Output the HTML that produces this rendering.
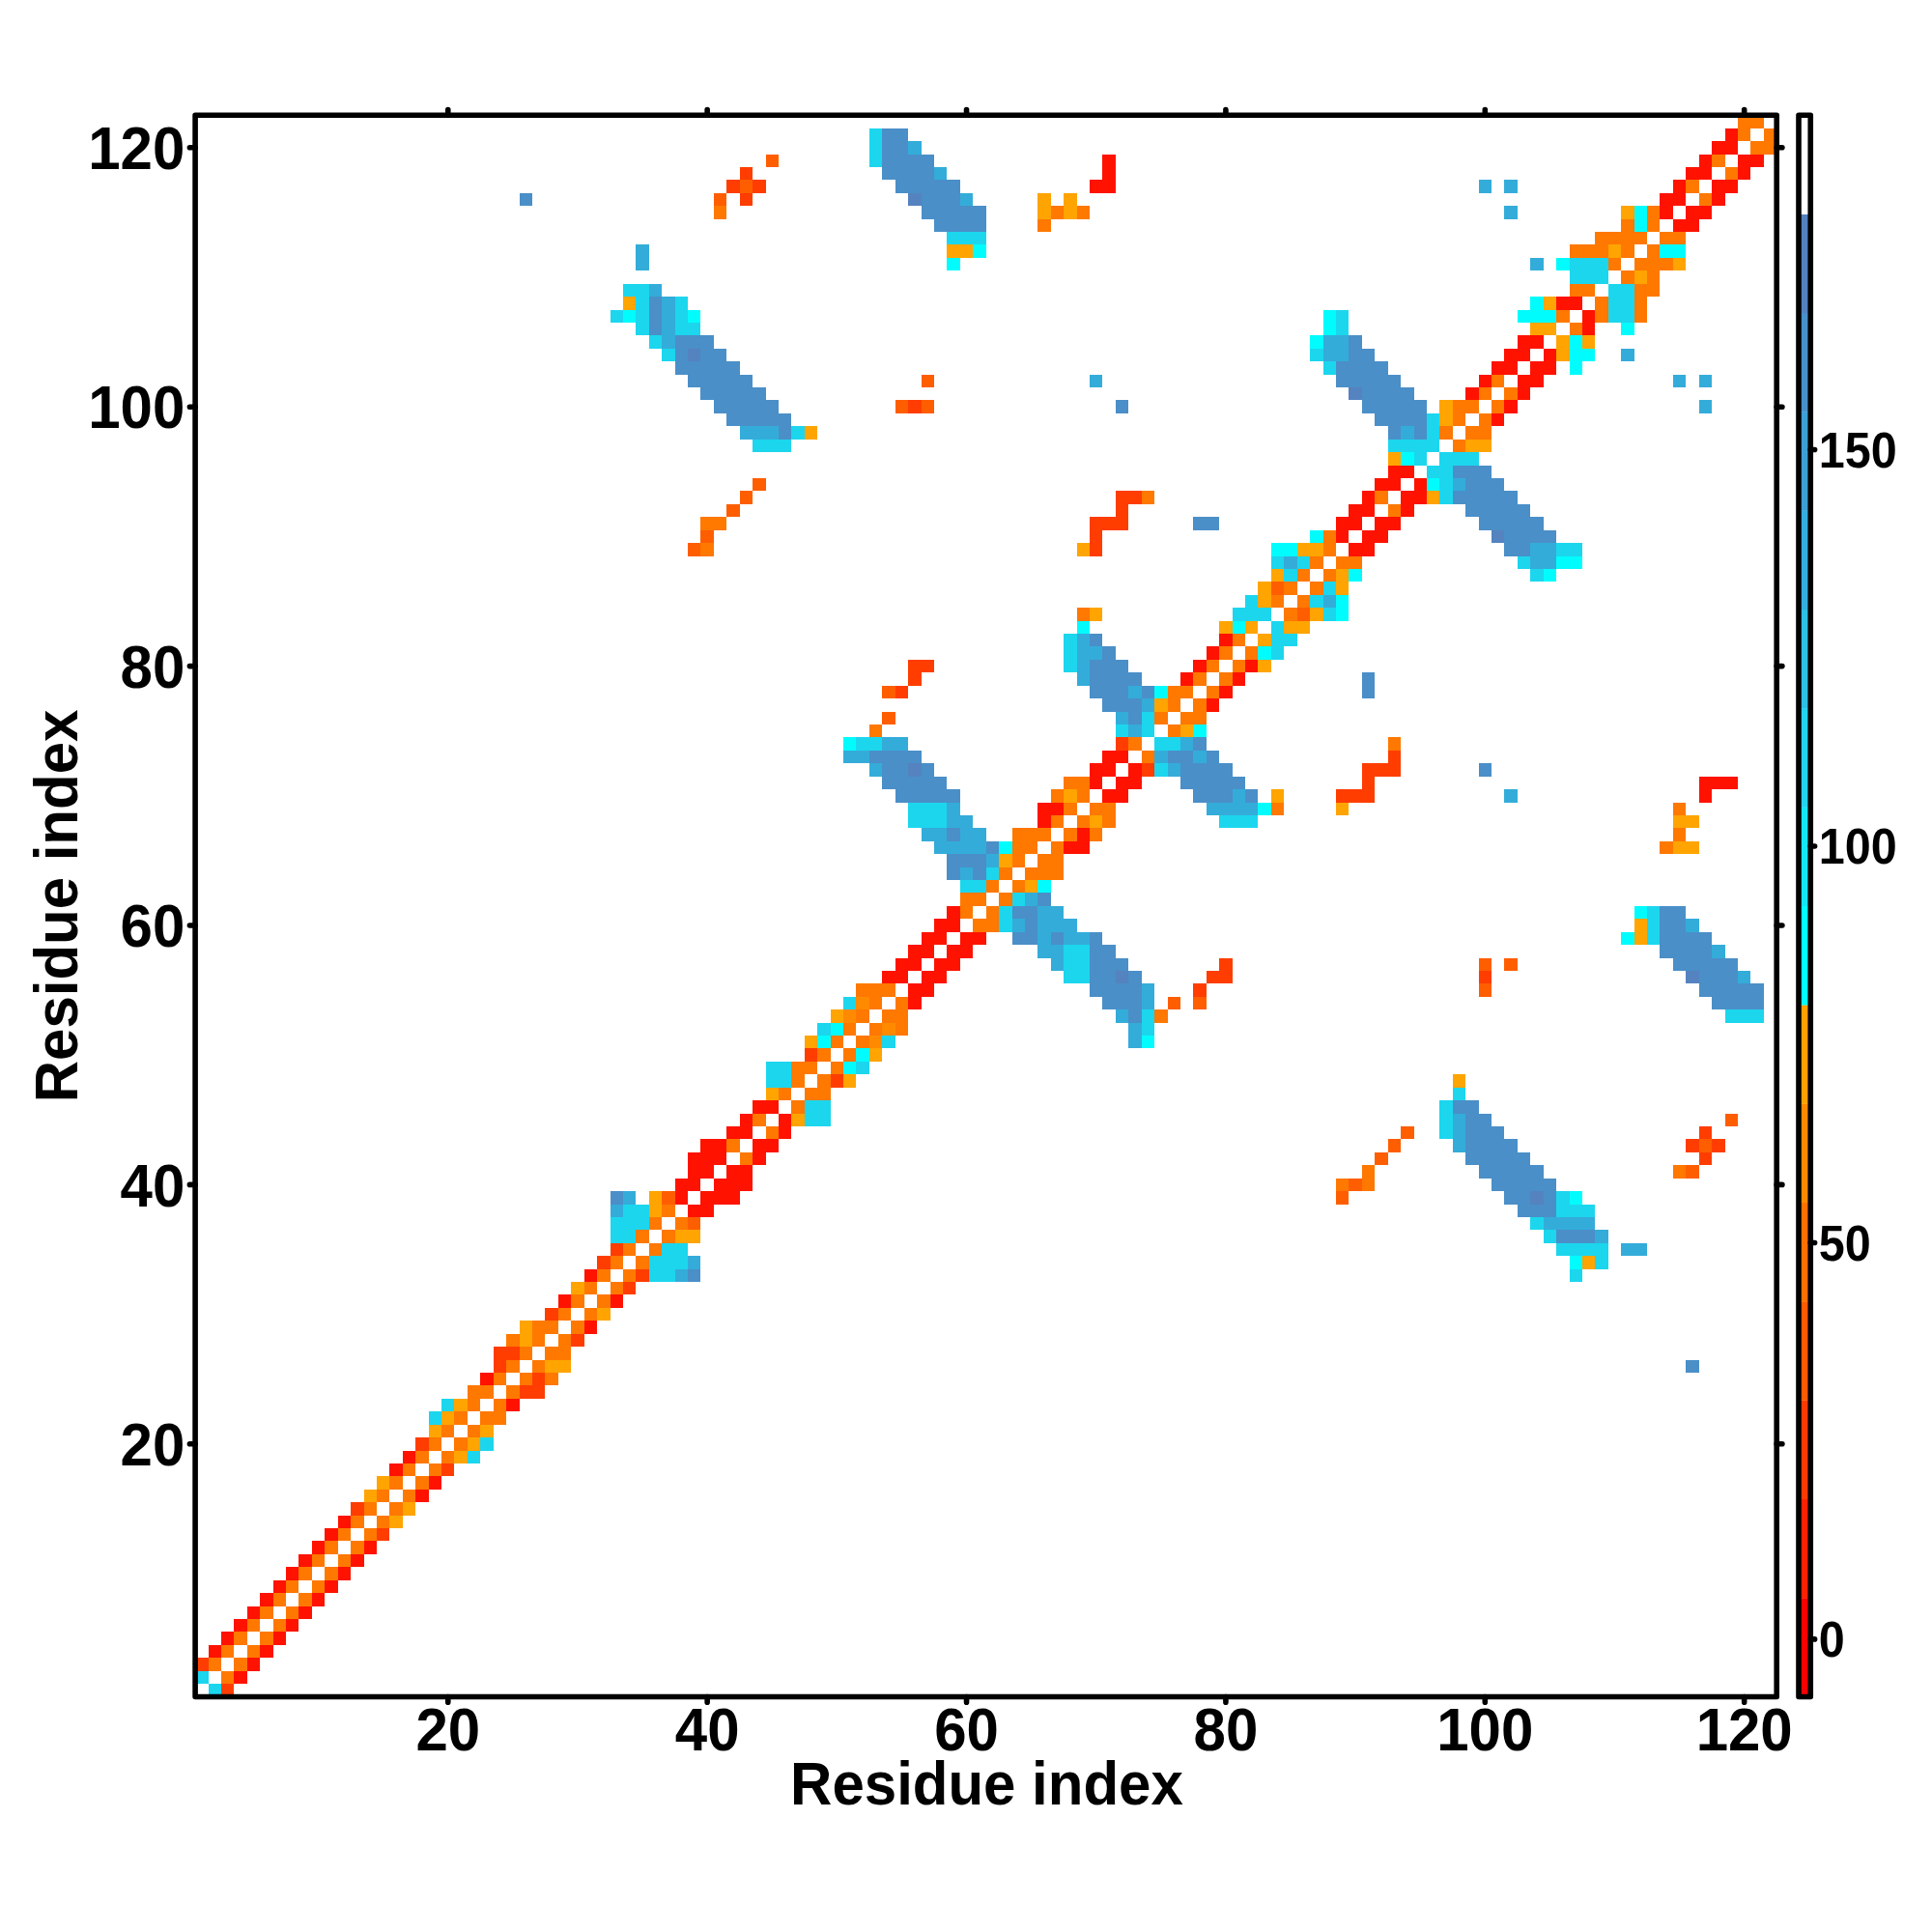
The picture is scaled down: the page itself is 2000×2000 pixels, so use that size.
<!DOCTYPE html>
<html><head><meta charset="utf-8"><title>Contact map</title>
<style>html,body{margin:0;padding:0;background:#fff;width:2000px;height:2000px;overflow:hidden}
svg{display:block}
text{font-family:"Liberation Sans",sans-serif;font-weight:bold;fill:#000}</style></head>
<body><svg width="2000" height="2000" viewBox="0 0 2000 2000">
<rect width="2000" height="2000" fill="#fff"/>
<g shape-rendering="crispEdges"><path fill="#1cd6ee" d="M202.11 1729.65h13.42v13.42h-13.42zM215.53 1743.07h13.42v13.42h-13.42zM443.65 1461.25h13.42v13.42h-13.42zM457.07 1447.83h13.42v13.42h-13.42zM483.91 1501.51h13.42v13.42h-13.42zM497.33 1488.09h13.42v13.42h-13.42zM631.52 1273.37h13.42v13.42h-13.42zM631.52 1259.95h13.42v13.42h-13.42zM631.52 320.55h13.42v13.42h-13.42zM644.94 1273.37h13.42v13.42h-13.42zM644.94 1259.95h13.42v13.42h-13.42zM644.94 1246.53h13.42v13.42h-13.42zM644.94 293.71h13.42v13.42h-13.42zM658.36 1259.95h13.42v13.42h-13.42zM658.36 1246.53h13.42v13.42h-13.42zM658.36 333.97h13.42v13.42h-13.42zM658.36 320.55h13.42v13.42h-13.42zM658.36 307.13h13.42v13.42h-13.42zM658.36 293.71h13.42v13.42h-13.42zM671.77 1313.63h13.42v13.42h-13.42zM671.77 1300.21h13.42v13.42h-13.42zM671.77 347.39h13.42v13.42h-13.42zM685.19 1313.63h13.42v13.42h-13.42zM685.19 1300.21h13.42v13.42h-13.42zM685.19 1286.79h13.42v13.42h-13.42zM685.19 360.81h13.42v13.42h-13.42zM698.61 1300.21h13.42v13.42h-13.42zM698.61 1286.79h13.42v13.42h-13.42zM698.61 333.97h13.42v13.42h-13.42zM698.61 320.55h13.42v13.42h-13.42zM698.61 307.13h13.42v13.42h-13.42zM712.03 333.97h13.42v13.42h-13.42zM779.13 454.75h13.42v13.42h-13.42zM792.55 1112.33h13.42v13.42h-13.42zM792.55 1098.91h13.42v13.42h-13.42zM792.55 454.75h13.42v13.42h-13.42zM805.96 1112.33h13.42v13.42h-13.42zM805.96 1098.91h13.42v13.42h-13.42zM805.96 454.75h13.42v13.42h-13.42zM819.38 441.33h13.42v13.42h-13.42zM832.80 1152.59h13.42v13.42h-13.42zM832.80 1139.17h13.42v13.42h-13.42zM846.22 1152.59h13.42v13.42h-13.42zM846.22 1139.17h13.42v13.42h-13.42zM846.22 1058.65h13.42v13.42h-13.42zM873.06 1031.81h13.42v13.42h-13.42zM886.48 1098.91h13.42v13.42h-13.42zM886.48 763.41h13.42v13.42h-13.42zM899.90 763.41h13.42v13.42h-13.42zM899.90 159.51h13.42v13.42h-13.42zM899.90 146.09h13.42v13.42h-13.42zM899.90 132.67h13.42v13.42h-13.42zM913.32 1072.07h13.42v13.42h-13.42zM940.15 843.93h13.42v13.42h-13.42zM940.15 830.51h13.42v13.42h-13.42zM953.57 843.93h13.42v13.42h-13.42zM953.57 830.51h13.42v13.42h-13.42zM966.99 843.93h13.42v13.42h-13.42zM966.99 830.51h13.42v13.42h-13.42zM980.41 240.03h13.42v13.42h-13.42zM993.83 911.03h13.42v13.42h-13.42zM993.83 240.03h13.42v13.42h-13.42zM1007.25 911.03h13.42v13.42h-13.42zM1007.25 240.03h13.42v13.42h-13.42zM1020.67 897.61h13.42v13.42h-13.42zM1034.09 951.29h13.42v13.42h-13.42zM1034.09 937.87h13.42v13.42h-13.42zM1047.51 924.45h13.42v13.42h-13.42zM1101.18 1004.97h13.42v13.42h-13.42zM1101.18 991.55h13.42v13.42h-13.42zM1101.18 978.13h13.42v13.42h-13.42zM1101.18 682.89h13.42v13.42h-13.42zM1101.18 669.47h13.42v13.42h-13.42zM1101.18 656.05h13.42v13.42h-13.42zM1114.60 1004.97h13.42v13.42h-13.42zM1114.60 991.55h13.42v13.42h-13.42zM1114.60 978.13h13.42v13.42h-13.42zM1154.86 749.99h13.42v13.42h-13.42zM1181.70 1058.65h13.42v13.42h-13.42zM1181.70 1045.23h13.42v13.42h-13.42zM1181.70 749.99h13.42v13.42h-13.42zM1181.70 736.57h13.42v13.42h-13.42zM1195.12 790.25h13.42v13.42h-13.42zM1195.12 763.41h13.42v13.42h-13.42zM1208.53 763.41h13.42v13.42h-13.42zM1262.21 843.93h13.42v13.42h-13.42zM1275.63 843.93h13.42v13.42h-13.42zM1275.63 629.21h13.42v13.42h-13.42zM1289.05 843.93h13.42v13.42h-13.42zM1289.05 629.21h13.42v13.42h-13.42zM1289.05 615.79h13.42v13.42h-13.42zM1302.47 629.21h13.42v13.42h-13.42zM1315.89 669.47h13.42v13.42h-13.42zM1315.89 656.05h13.42v13.42h-13.42zM1315.89 642.63h13.42v13.42h-13.42zM1315.89 575.53h13.42v13.42h-13.42zM1329.31 656.05h13.42v13.42h-13.42zM1329.31 588.95h13.42v13.42h-13.42zM1342.72 575.53h13.42v13.42h-13.42zM1356.14 615.79h13.42v13.42h-13.42zM1356.14 360.81h13.42v13.42h-13.42zM1369.56 629.21h13.42v13.42h-13.42zM1369.56 602.37h13.42v13.42h-13.42zM1369.56 374.23h13.42v13.42h-13.42zM1382.98 333.97h13.42v13.42h-13.42zM1382.98 320.55h13.42v13.42h-13.42zM1436.66 454.75h13.42v13.42h-13.42zM1450.08 454.75h13.42v13.42h-13.42zM1463.50 468.17h13.42v13.42h-13.42zM1463.50 454.75h13.42v13.42h-13.42zM1476.91 481.59h13.42v13.42h-13.42zM1476.91 454.75h13.42v13.42h-13.42zM1476.91 441.33h13.42v13.42h-13.42zM1476.91 427.91h13.42v13.42h-13.42zM1490.33 1166.01h13.42v13.42h-13.42zM1490.33 1152.59h13.42v13.42h-13.42zM1490.33 1139.17h13.42v13.42h-13.42zM1490.33 508.43h13.42v13.42h-13.42zM1490.33 495.01h13.42v13.42h-13.42zM1490.33 481.59h13.42v13.42h-13.42zM1490.33 468.17h13.42v13.42h-13.42zM1503.75 1125.75h13.42v13.42h-13.42zM1503.75 468.17h13.42v13.42h-13.42zM1517.17 468.17h13.42v13.42h-13.42zM1570.85 575.53h13.42v13.42h-13.42zM1584.27 1259.95h13.42v13.42h-13.42zM1584.27 588.95h13.42v13.42h-13.42zM1597.69 1273.37h13.42v13.42h-13.42zM1611.10 1286.79h13.42v13.42h-13.42zM1611.10 1246.53h13.42v13.42h-13.42zM1611.10 1233.11h13.42v13.42h-13.42zM1611.10 562.11h13.42v13.42h-13.42zM1624.52 1313.63h13.42v13.42h-13.42zM1624.52 1286.79h13.42v13.42h-13.42zM1624.52 1246.53h13.42v13.42h-13.42zM1624.52 562.11h13.42v13.42h-13.42zM1624.52 280.29h13.42v13.42h-13.42zM1624.52 266.87h13.42v13.42h-13.42zM1637.94 1286.79h13.42v13.42h-13.42zM1637.94 1246.53h13.42v13.42h-13.42zM1637.94 280.29h13.42v13.42h-13.42zM1637.94 266.87h13.42v13.42h-13.42zM1651.36 1300.21h13.42v13.42h-13.42zM1651.36 1286.79h13.42v13.42h-13.42zM1651.36 280.29h13.42v13.42h-13.42zM1651.36 266.87h13.42v13.42h-13.42zM1664.78 320.55h13.42v13.42h-13.42zM1664.78 307.13h13.42v13.42h-13.42zM1664.78 293.71h13.42v13.42h-13.42zM1678.20 320.55h13.42v13.42h-13.42zM1678.20 307.13h13.42v13.42h-13.42zM1678.20 293.71h13.42v13.42h-13.42zM1705.04 964.71h13.42v13.42h-13.42zM1705.04 951.29h13.42v13.42h-13.42zM1705.04 937.87h13.42v13.42h-13.42zM1785.55 1045.23h13.42v13.42h-13.42zM1798.97 1045.23h13.42v13.42h-13.42zM1812.39 1045.23h13.42v13.42h-13.42z"/><path fill="#ff3d00" d="M202.11 1716.23h13.42v13.42h-13.42zM228.95 1743.07h13.42v13.42h-13.42zM363.14 1555.19h13.42v13.42h-13.42zM389.98 1582.03h13.42v13.42h-13.42zM430.23 1488.09h13.42v13.42h-13.42zM457.07 1514.93h13.42v13.42h-13.42zM510.75 1407.57h13.42v13.42h-13.42zM510.75 1394.15h13.42v13.42h-13.42zM524.17 1394.15h13.42v13.42h-13.42zM537.58 1434.41h13.42v13.42h-13.42zM551.00 1434.41h13.42v13.42h-13.42zM551.00 1420.99h13.42v13.42h-13.42zM564.42 1353.89h13.42v13.42h-13.42zM591.26 1380.73h13.42v13.42h-13.42zM618.10 1300.21h13.42v13.42h-13.42zM631.52 1286.79h13.42v13.42h-13.42zM644.94 1327.05h13.42v13.42h-13.42zM658.36 1313.63h13.42v13.42h-13.42zM752.29 186.35h13.42v13.42h-13.42zM765.71 199.77h13.42v13.42h-13.42zM765.71 172.93h13.42v13.42h-13.42zM779.13 186.35h13.42v13.42h-13.42zM832.80 1085.49h13.42v13.42h-13.42zM859.64 1112.33h13.42v13.42h-13.42zM926.74 709.73h13.42v13.42h-13.42zM940.15 696.31h13.42v13.42h-13.42zM940.15 682.89h13.42v13.42h-13.42zM940.15 414.49h13.42v13.42h-13.42zM953.57 682.89h13.42v13.42h-13.42zM1128.02 562.11h13.42v13.42h-13.42zM1128.02 548.69h13.42v13.42h-13.42zM1128.02 535.27h13.42v13.42h-13.42zM1141.44 535.27h13.42v13.42h-13.42zM1154.86 763.41h13.42v13.42h-13.42zM1154.86 535.27h13.42v13.42h-13.42zM1154.86 521.85h13.42v13.42h-13.42zM1154.86 508.43h13.42v13.42h-13.42zM1168.28 508.43h13.42v13.42h-13.42zM1181.70 790.25h13.42v13.42h-13.42zM1235.37 1018.39h13.42v13.42h-13.42zM1248.79 1004.97h13.42v13.42h-13.42zM1262.21 1004.97h13.42v13.42h-13.42zM1262.21 991.55h13.42v13.42h-13.42zM1382.98 817.09h13.42v13.42h-13.42zM1396.40 817.09h13.42v13.42h-13.42zM1409.82 817.09h13.42v13.42h-13.42zM1409.82 803.67h13.42v13.42h-13.42zM1409.82 790.25h13.42v13.42h-13.42zM1423.24 790.25h13.42v13.42h-13.42zM1436.66 790.25h13.42v13.42h-13.42zM1436.66 776.83h13.42v13.42h-13.42zM1530.59 1004.97h13.42v13.42h-13.42zM1745.29 1179.43h13.42v13.42h-13.42zM1758.71 1192.85h13.42v13.42h-13.42zM1758.71 1166.01h13.42v13.42h-13.42zM1772.13 1179.43h13.42v13.42h-13.42z"/><path fill="#ff7800" d="M215.53 1716.23h13.42v13.42h-13.42zM228.95 1729.65h13.42v13.42h-13.42zM228.95 1702.81h13.42v13.42h-13.42zM242.37 1716.23h13.42v13.42h-13.42zM242.37 1689.39h13.42v13.42h-13.42zM255.79 1702.81h13.42v13.42h-13.42zM255.79 1675.97h13.42v13.42h-13.42zM269.20 1689.39h13.42v13.42h-13.42zM269.20 1662.55h13.42v13.42h-13.42zM282.62 1675.97h13.42v13.42h-13.42zM282.62 1649.13h13.42v13.42h-13.42zM296.04 1662.55h13.42v13.42h-13.42zM296.04 1635.71h13.42v13.42h-13.42zM309.46 1649.13h13.42v13.42h-13.42zM309.46 1622.29h13.42v13.42h-13.42zM322.88 1635.71h13.42v13.42h-13.42zM322.88 1608.87h13.42v13.42h-13.42zM336.30 1622.29h13.42v13.42h-13.42zM336.30 1595.45h13.42v13.42h-13.42zM349.72 1608.87h13.42v13.42h-13.42zM349.72 1582.03h13.42v13.42h-13.42zM363.14 1595.45h13.42v13.42h-13.42zM363.14 1568.61h13.42v13.42h-13.42zM376.56 1582.03h13.42v13.42h-13.42zM376.56 1555.19h13.42v13.42h-13.42zM389.98 1568.61h13.42v13.42h-13.42zM389.98 1541.77h13.42v13.42h-13.42zM403.39 1555.19h13.42v13.42h-13.42zM403.39 1528.35h13.42v13.42h-13.42zM416.81 1541.77h13.42v13.42h-13.42zM416.81 1514.93h13.42v13.42h-13.42zM430.23 1528.35h13.42v13.42h-13.42zM430.23 1501.51h13.42v13.42h-13.42zM443.65 1514.93h13.42v13.42h-13.42zM443.65 1488.09h13.42v13.42h-13.42zM457.07 1501.51h13.42v13.42h-13.42zM457.07 1474.67h13.42v13.42h-13.42zM470.49 1488.09h13.42v13.42h-13.42zM470.49 1461.25h13.42v13.42h-13.42zM483.91 1474.67h13.42v13.42h-13.42zM483.91 1447.83h13.42v13.42h-13.42zM483.91 1434.41h13.42v13.42h-13.42zM497.33 1461.25h13.42v13.42h-13.42zM497.33 1434.41h13.42v13.42h-13.42zM510.75 1461.25h13.42v13.42h-13.42zM510.75 1447.83h13.42v13.42h-13.42zM510.75 1420.99h13.42v13.42h-13.42zM524.17 1434.41h13.42v13.42h-13.42zM524.17 1407.57h13.42v13.42h-13.42zM524.17 1380.73h13.42v13.42h-13.42zM537.58 1420.99h13.42v13.42h-13.42zM537.58 1394.15h13.42v13.42h-13.42zM551.00 1407.57h13.42v13.42h-13.42zM551.00 1380.73h13.42v13.42h-13.42zM551.00 1367.31h13.42v13.42h-13.42zM564.42 1420.99h13.42v13.42h-13.42zM564.42 1394.15h13.42v13.42h-13.42zM564.42 1367.31h13.42v13.42h-13.42zM577.84 1394.15h13.42v13.42h-13.42zM577.84 1380.73h13.42v13.42h-13.42zM577.84 1353.89h13.42v13.42h-13.42zM591.26 1367.31h13.42v13.42h-13.42zM591.26 1340.47h13.42v13.42h-13.42zM604.68 1353.89h13.42v13.42h-13.42zM604.68 1327.05h13.42v13.42h-13.42zM618.10 1340.47h13.42v13.42h-13.42zM618.10 1313.63h13.42v13.42h-13.42zM631.52 1327.05h13.42v13.42h-13.42zM631.52 1300.21h13.42v13.42h-13.42zM644.94 1313.63h13.42v13.42h-13.42zM644.94 1286.79h13.42v13.42h-13.42zM658.36 1300.21h13.42v13.42h-13.42zM658.36 1273.37h13.42v13.42h-13.42zM671.77 1286.79h13.42v13.42h-13.42zM671.77 1259.95h13.42v13.42h-13.42zM685.19 1273.37h13.42v13.42h-13.42zM685.19 1246.53h13.42v13.42h-13.42zM698.61 1259.95h13.42v13.42h-13.42zM725.45 562.11h13.42v13.42h-13.42zM725.45 535.27h13.42v13.42h-13.42zM738.87 535.27h13.42v13.42h-13.42zM738.87 213.19h13.42v13.42h-13.42zM752.29 1179.43h13.42v13.42h-13.42zM765.71 1192.85h13.42v13.42h-13.42zM779.13 1152.59h13.42v13.42h-13.42zM792.55 1166.01h13.42v13.42h-13.42zM805.96 1125.75h13.42v13.42h-13.42zM819.38 1139.17h13.42v13.42h-13.42zM819.38 1112.33h13.42v13.42h-13.42zM819.38 1098.91h13.42v13.42h-13.42zM832.80 1125.75h13.42v13.42h-13.42zM832.80 1098.91h13.42v13.42h-13.42zM846.22 1125.75h13.42v13.42h-13.42zM846.22 1112.33h13.42v13.42h-13.42zM846.22 1085.49h13.42v13.42h-13.42zM859.64 1098.91h13.42v13.42h-13.42zM859.64 1072.07h13.42v13.42h-13.42zM873.06 1085.49h13.42v13.42h-13.42zM873.06 1058.65h13.42v13.42h-13.42zM886.48 1072.07h13.42v13.42h-13.42zM886.48 1045.23h13.42v13.42h-13.42zM886.48 1018.39h13.42v13.42h-13.42zM899.90 1058.65h13.42v13.42h-13.42zM899.90 1031.81h13.42v13.42h-13.42zM899.90 1018.39h13.42v13.42h-13.42zM899.90 749.99h13.42v13.42h-13.42zM913.32 1045.23h13.42v13.42h-13.42zM913.32 1018.39h13.42v13.42h-13.42zM926.74 1058.65h13.42v13.42h-13.42zM926.74 1045.23h13.42v13.42h-13.42zM926.74 1031.81h13.42v13.42h-13.42zM993.83 937.87h13.42v13.42h-13.42zM993.83 924.45h13.42v13.42h-13.42zM1007.25 951.29h13.42v13.42h-13.42zM1007.25 924.45h13.42v13.42h-13.42zM1020.67 951.29h13.42v13.42h-13.42zM1020.67 937.87h13.42v13.42h-13.42zM1020.67 911.03h13.42v13.42h-13.42zM1034.09 924.45h13.42v13.42h-13.42zM1034.09 897.61h13.42v13.42h-13.42zM1047.51 911.03h13.42v13.42h-13.42zM1047.51 884.19h13.42v13.42h-13.42zM1047.51 870.77h13.42v13.42h-13.42zM1047.51 857.35h13.42v13.42h-13.42zM1060.93 897.61h13.42v13.42h-13.42zM1060.93 870.77h13.42v13.42h-13.42zM1060.93 857.35h13.42v13.42h-13.42zM1074.34 897.61h13.42v13.42h-13.42zM1074.34 884.19h13.42v13.42h-13.42zM1074.34 857.35h13.42v13.42h-13.42zM1074.34 226.61h13.42v13.42h-13.42zM1087.76 897.61h13.42v13.42h-13.42zM1087.76 884.19h13.42v13.42h-13.42zM1087.76 870.77h13.42v13.42h-13.42zM1087.76 843.93h13.42v13.42h-13.42zM1087.76 817.09h13.42v13.42h-13.42zM1087.76 213.19h13.42v13.42h-13.42zM1101.18 857.35h13.42v13.42h-13.42zM1101.18 830.51h13.42v13.42h-13.42zM1101.18 803.67h13.42v13.42h-13.42zM1114.60 843.93h13.42v13.42h-13.42zM1114.60 817.09h13.42v13.42h-13.42zM1114.60 803.67h13.42v13.42h-13.42zM1114.60 629.21h13.42v13.42h-13.42zM1114.60 213.19h13.42v13.42h-13.42zM1128.02 857.35h13.42v13.42h-13.42zM1128.02 830.51h13.42v13.42h-13.42zM1141.44 843.93h13.42v13.42h-13.42zM1141.44 830.51h13.42v13.42h-13.42zM1168.28 763.41h13.42v13.42h-13.42zM1181.70 776.83h13.42v13.42h-13.42zM1181.70 508.43h13.42v13.42h-13.42zM1195.12 1045.23h13.42v13.42h-13.42zM1195.12 736.57h13.42v13.42h-13.42zM1208.53 749.99h13.42v13.42h-13.42zM1208.53 723.15h13.42v13.42h-13.42zM1208.53 709.73h13.42v13.42h-13.42zM1221.95 736.57h13.42v13.42h-13.42zM1221.95 709.73h13.42v13.42h-13.42zM1235.37 736.57h13.42v13.42h-13.42zM1235.37 723.15h13.42v13.42h-13.42zM1235.37 696.31h13.42v13.42h-13.42zM1248.79 709.73h13.42v13.42h-13.42zM1248.79 682.89h13.42v13.42h-13.42zM1262.21 696.31h13.42v13.42h-13.42zM1262.21 669.47h13.42v13.42h-13.42zM1275.63 682.89h13.42v13.42h-13.42zM1275.63 656.05h13.42v13.42h-13.42zM1289.05 669.47h13.42v13.42h-13.42zM1315.89 830.51h13.42v13.42h-13.42zM1315.89 615.79h13.42v13.42h-13.42zM1329.31 629.21h13.42v13.42h-13.42zM1329.31 602.37h13.42v13.42h-13.42zM1342.72 615.79h13.42v13.42h-13.42zM1342.72 588.95h13.42v13.42h-13.42zM1356.14 602.37h13.42v13.42h-13.42zM1356.14 575.53h13.42v13.42h-13.42zM1369.56 588.95h13.42v13.42h-13.42zM1369.56 562.11h13.42v13.42h-13.42zM1369.56 548.69h13.42v13.42h-13.42zM1382.98 1219.69h13.42v13.42h-13.42zM1382.98 575.53h13.42v13.42h-13.42zM1396.40 575.53h13.42v13.42h-13.42zM1409.82 1219.69h13.42v13.42h-13.42zM1409.82 1206.27h13.42v13.42h-13.42zM1423.24 508.43h13.42v13.42h-13.42zM1436.66 763.41h13.42v13.42h-13.42zM1436.66 521.85h13.42v13.42h-13.42zM1490.33 441.33h13.42v13.42h-13.42zM1503.75 454.75h13.42v13.42h-13.42zM1503.75 427.91h13.42v13.42h-13.42zM1503.75 414.49h13.42v13.42h-13.42zM1517.17 441.33h13.42v13.42h-13.42zM1517.17 414.49h13.42v13.42h-13.42zM1530.59 441.33h13.42v13.42h-13.42zM1530.59 427.91h13.42v13.42h-13.42zM1530.59 401.07h13.42v13.42h-13.42zM1544.01 414.49h13.42v13.42h-13.42zM1544.01 387.65h13.42v13.42h-13.42zM1557.43 401.07h13.42v13.42h-13.42zM1611.10 320.55h13.42v13.42h-13.42zM1624.52 333.97h13.42v13.42h-13.42zM1624.52 293.71h13.42v13.42h-13.42zM1624.52 253.45h13.42v13.42h-13.42zM1637.94 293.71h13.42v13.42h-13.42zM1637.94 253.45h13.42v13.42h-13.42zM1651.36 320.55h13.42v13.42h-13.42zM1651.36 307.13h13.42v13.42h-13.42zM1651.36 253.45h13.42v13.42h-13.42zM1651.36 240.03h13.42v13.42h-13.42zM1664.78 266.87h13.42v13.42h-13.42zM1664.78 240.03h13.42v13.42h-13.42zM1678.20 280.29h13.42v13.42h-13.42zM1678.20 253.45h13.42v13.42h-13.42zM1678.20 240.03h13.42v13.42h-13.42zM1678.20 226.61h13.42v13.42h-13.42zM1691.62 320.55h13.42v13.42h-13.42zM1691.62 307.13h13.42v13.42h-13.42zM1691.62 293.71h13.42v13.42h-13.42zM1691.62 266.87h13.42v13.42h-13.42zM1691.62 240.03h13.42v13.42h-13.42zM1705.04 293.71h13.42v13.42h-13.42zM1705.04 280.29h13.42v13.42h-13.42zM1705.04 266.87h13.42v13.42h-13.42zM1705.04 253.45h13.42v13.42h-13.42zM1705.04 226.61h13.42v13.42h-13.42zM1705.04 213.19h13.42v13.42h-13.42zM1718.46 870.77h13.42v13.42h-13.42zM1718.46 266.87h13.42v13.42h-13.42zM1718.46 240.03h13.42v13.42h-13.42zM1731.88 1206.27h13.42v13.42h-13.42zM1731.88 857.35h13.42v13.42h-13.42zM1731.88 830.51h13.42v13.42h-13.42zM1731.88 240.03h13.42v13.42h-13.42zM1745.29 186.35h13.42v13.42h-13.42zM1758.71 199.77h13.42v13.42h-13.42zM1772.13 159.51h13.42v13.42h-13.42zM1785.55 172.93h13.42v13.42h-13.42zM1798.97 132.67h13.42v13.42h-13.42zM1798.97 119.25h13.42v13.42h-13.42zM1812.39 146.09h13.42v13.42h-13.42zM1812.39 119.25h13.42v13.42h-13.42zM1825.81 146.09h13.42v13.42h-13.42zM1825.81 132.67h13.42v13.42h-13.42z"/><path fill="#ff1200" d="M215.53 1702.81h13.42v13.42h-13.42zM228.95 1689.39h13.42v13.42h-13.42zM242.37 1729.65h13.42v13.42h-13.42zM242.37 1675.97h13.42v13.42h-13.42zM255.79 1716.23h13.42v13.42h-13.42zM255.79 1662.55h13.42v13.42h-13.42zM269.20 1702.81h13.42v13.42h-13.42zM269.20 1649.13h13.42v13.42h-13.42zM282.62 1689.39h13.42v13.42h-13.42zM282.62 1635.71h13.42v13.42h-13.42zM296.04 1675.97h13.42v13.42h-13.42zM296.04 1622.29h13.42v13.42h-13.42zM309.46 1662.55h13.42v13.42h-13.42zM309.46 1608.87h13.42v13.42h-13.42zM322.88 1649.13h13.42v13.42h-13.42zM322.88 1595.45h13.42v13.42h-13.42zM336.30 1635.71h13.42v13.42h-13.42zM336.30 1582.03h13.42v13.42h-13.42zM349.72 1622.29h13.42v13.42h-13.42zM349.72 1568.61h13.42v13.42h-13.42zM363.14 1608.87h13.42v13.42h-13.42zM376.56 1595.45h13.42v13.42h-13.42zM403.39 1514.93h13.42v13.42h-13.42zM416.81 1501.51h13.42v13.42h-13.42zM430.23 1541.77h13.42v13.42h-13.42zM443.65 1528.35h13.42v13.42h-13.42zM497.33 1420.99h13.42v13.42h-13.42zM524.17 1447.83h13.42v13.42h-13.42zM577.84 1340.47h13.42v13.42h-13.42zM604.68 1367.31h13.42v13.42h-13.42zM604.68 1313.63h13.42v13.42h-13.42zM631.52 1340.47h13.42v13.42h-13.42zM698.61 1233.11h13.42v13.42h-13.42zM698.61 1219.69h13.42v13.42h-13.42zM712.03 1246.53h13.42v13.42h-13.42zM712.03 1219.69h13.42v13.42h-13.42zM712.03 1206.27h13.42v13.42h-13.42zM712.03 1192.85h13.42v13.42h-13.42zM725.45 1246.53h13.42v13.42h-13.42zM725.45 1233.11h13.42v13.42h-13.42zM725.45 1206.27h13.42v13.42h-13.42zM725.45 1192.85h13.42v13.42h-13.42zM725.45 1179.43h13.42v13.42h-13.42zM738.87 1233.11h13.42v13.42h-13.42zM738.87 1219.69h13.42v13.42h-13.42zM738.87 1192.85h13.42v13.42h-13.42zM738.87 1179.43h13.42v13.42h-13.42zM752.29 1233.11h13.42v13.42h-13.42zM752.29 1219.69h13.42v13.42h-13.42zM752.29 1206.27h13.42v13.42h-13.42zM752.29 1166.01h13.42v13.42h-13.42zM765.71 1219.69h13.42v13.42h-13.42zM765.71 1206.27h13.42v13.42h-13.42zM765.71 1166.01h13.42v13.42h-13.42zM765.71 1152.59h13.42v13.42h-13.42zM779.13 1192.85h13.42v13.42h-13.42zM779.13 1179.43h13.42v13.42h-13.42zM779.13 1139.17h13.42v13.42h-13.42zM792.55 1179.43h13.42v13.42h-13.42zM792.55 1139.17h13.42v13.42h-13.42zM805.96 1166.01h13.42v13.42h-13.42zM805.96 1152.59h13.42v13.42h-13.42zM913.32 1004.97h13.42v13.42h-13.42zM926.74 1004.97h13.42v13.42h-13.42zM926.74 991.55h13.42v13.42h-13.42zM940.15 1031.81h13.42v13.42h-13.42zM940.15 1018.39h13.42v13.42h-13.42zM940.15 991.55h13.42v13.42h-13.42zM940.15 978.13h13.42v13.42h-13.42zM953.57 1018.39h13.42v13.42h-13.42zM953.57 1004.97h13.42v13.42h-13.42zM953.57 978.13h13.42v13.42h-13.42zM953.57 964.71h13.42v13.42h-13.42zM966.99 1004.97h13.42v13.42h-13.42zM966.99 991.55h13.42v13.42h-13.42zM966.99 964.71h13.42v13.42h-13.42zM966.99 951.29h13.42v13.42h-13.42zM980.41 991.55h13.42v13.42h-13.42zM980.41 978.13h13.42v13.42h-13.42zM980.41 951.29h13.42v13.42h-13.42zM980.41 937.87h13.42v13.42h-13.42zM993.83 978.13h13.42v13.42h-13.42zM993.83 964.71h13.42v13.42h-13.42zM1007.25 964.71h13.42v13.42h-13.42zM1074.34 843.93h13.42v13.42h-13.42zM1074.34 830.51h13.42v13.42h-13.42zM1087.76 830.51h13.42v13.42h-13.42zM1101.18 870.77h13.42v13.42h-13.42zM1114.60 870.77h13.42v13.42h-13.42zM1114.60 857.35h13.42v13.42h-13.42zM1128.02 803.67h13.42v13.42h-13.42zM1128.02 790.25h13.42v13.42h-13.42zM1128.02 186.35h13.42v13.42h-13.42zM1141.44 817.09h13.42v13.42h-13.42zM1141.44 790.25h13.42v13.42h-13.42zM1141.44 776.83h13.42v13.42h-13.42zM1141.44 186.35h13.42v13.42h-13.42zM1141.44 172.93h13.42v13.42h-13.42zM1141.44 159.51h13.42v13.42h-13.42zM1154.86 817.09h13.42v13.42h-13.42zM1154.86 803.67h13.42v13.42h-13.42zM1154.86 776.83h13.42v13.42h-13.42zM1168.28 803.67h13.42v13.42h-13.42zM1168.28 790.25h13.42v13.42h-13.42zM1221.95 696.31h13.42v13.42h-13.42zM1235.37 682.89h13.42v13.42h-13.42zM1248.79 723.15h13.42v13.42h-13.42zM1248.79 669.47h13.42v13.42h-13.42zM1262.21 709.73h13.42v13.42h-13.42zM1262.21 656.05h13.42v13.42h-13.42zM1275.63 696.31h13.42v13.42h-13.42zM1289.05 682.89h13.42v13.42h-13.42zM1382.98 548.69h13.42v13.42h-13.42zM1382.98 535.27h13.42v13.42h-13.42zM1396.40 562.11h13.42v13.42h-13.42zM1396.40 535.27h13.42v13.42h-13.42zM1396.40 521.85h13.42v13.42h-13.42zM1409.82 562.11h13.42v13.42h-13.42zM1409.82 548.69h13.42v13.42h-13.42zM1409.82 521.85h13.42v13.42h-13.42zM1409.82 508.43h13.42v13.42h-13.42zM1423.24 548.69h13.42v13.42h-13.42zM1423.24 535.27h13.42v13.42h-13.42zM1423.24 495.01h13.42v13.42h-13.42zM1436.66 535.27h13.42v13.42h-13.42zM1436.66 495.01h13.42v13.42h-13.42zM1436.66 481.59h13.42v13.42h-13.42zM1450.08 521.85h13.42v13.42h-13.42zM1450.08 508.43h13.42v13.42h-13.42zM1450.08 481.59h13.42v13.42h-13.42zM1463.50 508.43h13.42v13.42h-13.42zM1463.50 495.01h13.42v13.42h-13.42zM1517.17 401.07h13.42v13.42h-13.42zM1530.59 387.65h13.42v13.42h-13.42zM1544.01 427.91h13.42v13.42h-13.42zM1544.01 374.23h13.42v13.42h-13.42zM1557.43 414.49h13.42v13.42h-13.42zM1557.43 374.23h13.42v13.42h-13.42zM1557.43 360.81h13.42v13.42h-13.42zM1570.85 401.07h13.42v13.42h-13.42zM1570.85 387.65h13.42v13.42h-13.42zM1570.85 360.81h13.42v13.42h-13.42zM1570.85 347.39h13.42v13.42h-13.42zM1584.27 387.65h13.42v13.42h-13.42zM1584.27 374.23h13.42v13.42h-13.42zM1584.27 347.39h13.42v13.42h-13.42zM1597.69 374.23h13.42v13.42h-13.42zM1597.69 360.81h13.42v13.42h-13.42zM1611.10 307.13h13.42v13.42h-13.42zM1624.52 307.13h13.42v13.42h-13.42zM1637.94 333.97h13.42v13.42h-13.42zM1637.94 320.55h13.42v13.42h-13.42zM1718.46 213.19h13.42v13.42h-13.42zM1718.46 199.77h13.42v13.42h-13.42zM1731.88 226.61h13.42v13.42h-13.42zM1731.88 199.77h13.42v13.42h-13.42zM1731.88 186.35h13.42v13.42h-13.42zM1745.29 226.61h13.42v13.42h-13.42zM1745.29 213.19h13.42v13.42h-13.42zM1745.29 172.93h13.42v13.42h-13.42zM1758.71 817.09h13.42v13.42h-13.42zM1758.71 803.67h13.42v13.42h-13.42zM1758.71 213.19h13.42v13.42h-13.42zM1758.71 172.93h13.42v13.42h-13.42zM1758.71 159.51h13.42v13.42h-13.42zM1772.13 803.67h13.42v13.42h-13.42zM1772.13 199.77h13.42v13.42h-13.42zM1772.13 186.35h13.42v13.42h-13.42zM1772.13 146.09h13.42v13.42h-13.42zM1785.55 803.67h13.42v13.42h-13.42zM1785.55 186.35h13.42v13.42h-13.42zM1785.55 146.09h13.42v13.42h-13.42zM1785.55 132.67h13.42v13.42h-13.42zM1798.97 172.93h13.42v13.42h-13.42zM1798.97 159.51h13.42v13.42h-13.42zM1812.39 159.51h13.42v13.42h-13.42z"/><path fill="#ffa400" d="M376.56 1541.77h13.42v13.42h-13.42zM389.98 1528.35h13.42v13.42h-13.42zM403.39 1568.61h13.42v13.42h-13.42zM416.81 1555.19h13.42v13.42h-13.42zM443.65 1474.67h13.42v13.42h-13.42zM457.07 1461.25h13.42v13.42h-13.42zM470.49 1501.51h13.42v13.42h-13.42zM470.49 1447.83h13.42v13.42h-13.42zM483.91 1488.09h13.42v13.42h-13.42zM497.33 1474.67h13.42v13.42h-13.42zM537.58 1380.73h13.42v13.42h-13.42zM537.58 1367.31h13.42v13.42h-13.42zM564.42 1407.57h13.42v13.42h-13.42zM577.84 1407.57h13.42v13.42h-13.42zM591.26 1327.05h13.42v13.42h-13.42zM618.10 1353.89h13.42v13.42h-13.42zM644.94 307.13h13.42v13.42h-13.42zM671.77 1246.53h13.42v13.42h-13.42zM671.77 1233.11h13.42v13.42h-13.42zM698.61 1273.37h13.42v13.42h-13.42zM712.03 1273.37h13.42v13.42h-13.42zM792.55 1125.75h13.42v13.42h-13.42zM819.38 1152.59h13.42v13.42h-13.42zM832.80 1072.07h13.42v13.42h-13.42zM832.80 441.33h13.42v13.42h-13.42zM859.64 1045.23h13.42v13.42h-13.42zM873.06 1112.33h13.42v13.42h-13.42zM899.90 1085.49h13.42v13.42h-13.42zM980.41 253.45h13.42v13.42h-13.42zM993.83 253.45h13.42v13.42h-13.42zM1034.09 884.19h13.42v13.42h-13.42zM1060.93 911.03h13.42v13.42h-13.42zM1074.34 213.19h13.42v13.42h-13.42zM1074.34 199.77h13.42v13.42h-13.42zM1101.18 817.09h13.42v13.42h-13.42zM1101.18 213.19h13.42v13.42h-13.42zM1101.18 199.77h13.42v13.42h-13.42zM1114.60 562.11h13.42v13.42h-13.42zM1128.02 843.93h13.42v13.42h-13.42zM1128.02 629.21h13.42v13.42h-13.42zM1195.12 723.15h13.42v13.42h-13.42zM1221.95 749.99h13.42v13.42h-13.42zM1262.21 642.63h13.42v13.42h-13.42zM1289.05 642.63h13.42v13.42h-13.42zM1302.47 682.89h13.42v13.42h-13.42zM1302.47 656.05h13.42v13.42h-13.42zM1302.47 615.79h13.42v13.42h-13.42zM1302.47 602.37h13.42v13.42h-13.42zM1315.89 817.09h13.42v13.42h-13.42zM1315.89 588.95h13.42v13.42h-13.42zM1329.31 642.63h13.42v13.42h-13.42zM1342.72 642.63h13.42v13.42h-13.42zM1342.72 562.11h13.42v13.42h-13.42zM1356.14 629.21h13.42v13.42h-13.42zM1356.14 562.11h13.42v13.42h-13.42zM1382.98 830.51h13.42v13.42h-13.42zM1382.98 602.37h13.42v13.42h-13.42zM1382.98 588.95h13.42v13.42h-13.42zM1436.66 468.17h13.42v13.42h-13.42zM1476.91 508.43h13.42v13.42h-13.42zM1490.33 427.91h13.42v13.42h-13.42zM1490.33 414.49h13.42v13.42h-13.42zM1503.75 1112.33h13.42v13.42h-13.42zM1517.17 454.75h13.42v13.42h-13.42zM1530.59 454.75h13.42v13.42h-13.42zM1584.27 333.97h13.42v13.42h-13.42zM1597.69 333.97h13.42v13.42h-13.42zM1597.69 307.13h13.42v13.42h-13.42zM1611.10 360.81h13.42v13.42h-13.42zM1611.10 347.39h13.42v13.42h-13.42zM1637.94 1300.21h13.42v13.42h-13.42zM1637.94 347.39h13.42v13.42h-13.42zM1664.78 253.45h13.42v13.42h-13.42zM1678.20 213.19h13.42v13.42h-13.42zM1691.62 964.71h13.42v13.42h-13.42zM1691.62 951.29h13.42v13.42h-13.42zM1691.62 280.29h13.42v13.42h-13.42zM1731.88 870.77h13.42v13.42h-13.42zM1731.88 843.93h13.42v13.42h-13.42zM1731.88 266.87h13.42v13.42h-13.42zM1745.29 870.77h13.42v13.42h-13.42zM1745.29 843.93h13.42v13.42h-13.42z"/><path fill="#4a8fc8" d="M537.58 199.77h13.42v13.42h-13.42zM631.52 1233.11h13.42v13.42h-13.42zM671.77 333.97h13.42v13.42h-13.42zM671.77 320.55h13.42v13.42h-13.42zM671.77 307.13h13.42v13.42h-13.42zM698.61 374.23h13.42v13.42h-13.42zM698.61 360.81h13.42v13.42h-13.42zM698.61 347.39h13.42v13.42h-13.42zM712.03 1313.63h13.42v13.42h-13.42zM712.03 387.65h13.42v13.42h-13.42zM712.03 374.23h13.42v13.42h-13.42zM712.03 347.39h13.42v13.42h-13.42zM725.45 401.07h13.42v13.42h-13.42zM725.45 387.65h13.42v13.42h-13.42zM725.45 374.23h13.42v13.42h-13.42zM725.45 360.81h13.42v13.42h-13.42zM725.45 347.39h13.42v13.42h-13.42zM738.87 414.49h13.42v13.42h-13.42zM738.87 401.07h13.42v13.42h-13.42zM738.87 387.65h13.42v13.42h-13.42zM738.87 374.23h13.42v13.42h-13.42zM738.87 360.81h13.42v13.42h-13.42zM752.29 427.91h13.42v13.42h-13.42zM752.29 414.49h13.42v13.42h-13.42zM752.29 401.07h13.42v13.42h-13.42zM752.29 387.65h13.42v13.42h-13.42zM752.29 374.23h13.42v13.42h-13.42zM765.71 427.91h13.42v13.42h-13.42zM765.71 414.49h13.42v13.42h-13.42zM765.71 401.07h13.42v13.42h-13.42zM765.71 387.65h13.42v13.42h-13.42zM779.13 427.91h13.42v13.42h-13.42zM779.13 414.49h13.42v13.42h-13.42zM779.13 401.07h13.42v13.42h-13.42zM792.55 427.91h13.42v13.42h-13.42zM792.55 414.49h13.42v13.42h-13.42zM805.96 441.33h13.42v13.42h-13.42zM805.96 427.91h13.42v13.42h-13.42zM899.90 776.83h13.42v13.42h-13.42zM913.32 803.67h13.42v13.42h-13.42zM913.32 790.25h13.42v13.42h-13.42zM913.32 776.83h13.42v13.42h-13.42zM913.32 172.93h13.42v13.42h-13.42zM913.32 159.51h13.42v13.42h-13.42zM913.32 146.09h13.42v13.42h-13.42zM913.32 132.67h13.42v13.42h-13.42zM926.74 817.09h13.42v13.42h-13.42zM926.74 803.67h13.42v13.42h-13.42zM926.74 790.25h13.42v13.42h-13.42zM926.74 776.83h13.42v13.42h-13.42zM926.74 186.35h13.42v13.42h-13.42zM926.74 172.93h13.42v13.42h-13.42zM926.74 159.51h13.42v13.42h-13.42zM926.74 146.09h13.42v13.42h-13.42zM926.74 132.67h13.42v13.42h-13.42zM940.15 817.09h13.42v13.42h-13.42zM940.15 803.67h13.42v13.42h-13.42zM940.15 776.83h13.42v13.42h-13.42zM940.15 186.35h13.42v13.42h-13.42zM940.15 172.93h13.42v13.42h-13.42zM940.15 159.51h13.42v13.42h-13.42zM953.57 817.09h13.42v13.42h-13.42zM953.57 803.67h13.42v13.42h-13.42zM953.57 790.25h13.42v13.42h-13.42zM953.57 213.19h13.42v13.42h-13.42zM953.57 199.77h13.42v13.42h-13.42zM953.57 186.35h13.42v13.42h-13.42zM953.57 172.93h13.42v13.42h-13.42zM953.57 159.51h13.42v13.42h-13.42zM966.99 817.09h13.42v13.42h-13.42zM966.99 803.67h13.42v13.42h-13.42zM966.99 226.61h13.42v13.42h-13.42zM966.99 213.19h13.42v13.42h-13.42zM966.99 199.77h13.42v13.42h-13.42zM966.99 186.35h13.42v13.42h-13.42zM980.41 897.61h13.42v13.42h-13.42zM980.41 884.19h13.42v13.42h-13.42zM980.41 857.35h13.42v13.42h-13.42zM980.41 817.09h13.42v13.42h-13.42zM980.41 226.61h13.42v13.42h-13.42zM980.41 213.19h13.42v13.42h-13.42zM980.41 199.77h13.42v13.42h-13.42zM980.41 186.35h13.42v13.42h-13.42zM993.83 884.19h13.42v13.42h-13.42zM993.83 226.61h13.42v13.42h-13.42zM993.83 213.19h13.42v13.42h-13.42zM1007.25 897.61h13.42v13.42h-13.42zM1007.25 884.19h13.42v13.42h-13.42zM1007.25 226.61h13.42v13.42h-13.42zM1007.25 213.19h13.42v13.42h-13.42zM1020.67 870.77h13.42v13.42h-13.42zM1047.51 964.71h13.42v13.42h-13.42zM1047.51 937.87h13.42v13.42h-13.42zM1060.93 964.71h13.42v13.42h-13.42zM1060.93 951.29h13.42v13.42h-13.42zM1060.93 937.87h13.42v13.42h-13.42zM1074.34 924.45h13.42v13.42h-13.42zM1087.76 964.71h13.42v13.42h-13.42zM1128.02 1018.39h13.42v13.42h-13.42zM1128.02 1004.97h13.42v13.42h-13.42zM1128.02 991.55h13.42v13.42h-13.42zM1128.02 978.13h13.42v13.42h-13.42zM1128.02 964.71h13.42v13.42h-13.42zM1128.02 709.73h13.42v13.42h-13.42zM1128.02 696.31h13.42v13.42h-13.42zM1128.02 682.89h13.42v13.42h-13.42zM1128.02 656.05h13.42v13.42h-13.42zM1141.44 1031.81h13.42v13.42h-13.42zM1141.44 1018.39h13.42v13.42h-13.42zM1141.44 1004.97h13.42v13.42h-13.42zM1141.44 991.55h13.42v13.42h-13.42zM1141.44 978.13h13.42v13.42h-13.42zM1141.44 723.15h13.42v13.42h-13.42zM1141.44 709.73h13.42v13.42h-13.42zM1141.44 696.31h13.42v13.42h-13.42zM1141.44 682.89h13.42v13.42h-13.42zM1141.44 669.47h13.42v13.42h-13.42zM1154.86 1031.81h13.42v13.42h-13.42zM1154.86 1018.39h13.42v13.42h-13.42zM1154.86 991.55h13.42v13.42h-13.42zM1154.86 723.15h13.42v13.42h-13.42zM1154.86 709.73h13.42v13.42h-13.42zM1154.86 696.31h13.42v13.42h-13.42zM1154.86 682.89h13.42v13.42h-13.42zM1154.86 414.49h13.42v13.42h-13.42zM1168.28 1045.23h13.42v13.42h-13.42zM1168.28 1031.81h13.42v13.42h-13.42zM1168.28 1018.39h13.42v13.42h-13.42zM1168.28 1004.97h13.42v13.42h-13.42zM1168.28 736.57h13.42v13.42h-13.42zM1168.28 723.15h13.42v13.42h-13.42zM1168.28 696.31h13.42v13.42h-13.42zM1181.70 709.73h13.42v13.42h-13.42zM1208.53 776.83h13.42v13.42h-13.42zM1221.95 803.67h13.42v13.42h-13.42zM1221.95 790.25h13.42v13.42h-13.42zM1221.95 776.83h13.42v13.42h-13.42zM1235.37 817.09h13.42v13.42h-13.42zM1235.37 803.67h13.42v13.42h-13.42zM1235.37 790.25h13.42v13.42h-13.42zM1235.37 763.41h13.42v13.42h-13.42zM1235.37 535.27h13.42v13.42h-13.42zM1248.79 817.09h13.42v13.42h-13.42zM1248.79 803.67h13.42v13.42h-13.42zM1248.79 790.25h13.42v13.42h-13.42zM1248.79 776.83h13.42v13.42h-13.42zM1248.79 535.27h13.42v13.42h-13.42zM1262.21 817.09h13.42v13.42h-13.42zM1262.21 803.67h13.42v13.42h-13.42zM1262.21 790.25h13.42v13.42h-13.42zM1275.63 803.67h13.42v13.42h-13.42zM1289.05 817.09h13.42v13.42h-13.42zM1382.98 387.65h13.42v13.42h-13.42zM1382.98 374.23h13.42v13.42h-13.42zM1396.40 387.65h13.42v13.42h-13.42zM1396.40 374.23h13.42v13.42h-13.42zM1396.40 360.81h13.42v13.42h-13.42zM1396.40 347.39h13.42v13.42h-13.42zM1409.82 709.73h13.42v13.42h-13.42zM1409.82 696.31h13.42v13.42h-13.42zM1409.82 414.49h13.42v13.42h-13.42zM1409.82 401.07h13.42v13.42h-13.42zM1409.82 387.65h13.42v13.42h-13.42zM1409.82 374.23h13.42v13.42h-13.42zM1409.82 360.81h13.42v13.42h-13.42zM1423.24 427.91h13.42v13.42h-13.42zM1423.24 414.49h13.42v13.42h-13.42zM1423.24 401.07h13.42v13.42h-13.42zM1423.24 387.65h13.42v13.42h-13.42zM1423.24 374.23h13.42v13.42h-13.42zM1436.66 441.33h13.42v13.42h-13.42zM1436.66 427.91h13.42v13.42h-13.42zM1436.66 414.49h13.42v13.42h-13.42zM1436.66 401.07h13.42v13.42h-13.42zM1436.66 387.65h13.42v13.42h-13.42zM1450.08 427.91h13.42v13.42h-13.42zM1450.08 414.49h13.42v13.42h-13.42zM1450.08 401.07h13.42v13.42h-13.42zM1463.50 441.33h13.42v13.42h-13.42zM1463.50 427.91h13.42v13.42h-13.42zM1463.50 414.49h13.42v13.42h-13.42zM1503.75 1139.17h13.42v13.42h-13.42zM1503.75 508.43h13.42v13.42h-13.42zM1503.75 481.59h13.42v13.42h-13.42zM1517.17 1192.85h13.42v13.42h-13.42zM1517.17 1179.43h13.42v13.42h-13.42zM1517.17 1166.01h13.42v13.42h-13.42zM1517.17 1152.59h13.42v13.42h-13.42zM1517.17 1139.17h13.42v13.42h-13.42zM1517.17 521.85h13.42v13.42h-13.42zM1517.17 508.43h13.42v13.42h-13.42zM1517.17 495.01h13.42v13.42h-13.42zM1517.17 481.59h13.42v13.42h-13.42zM1530.59 1206.27h13.42v13.42h-13.42zM1530.59 1192.85h13.42v13.42h-13.42zM1530.59 1179.43h13.42v13.42h-13.42zM1530.59 1166.01h13.42v13.42h-13.42zM1530.59 1152.59h13.42v13.42h-13.42zM1530.59 790.25h13.42v13.42h-13.42zM1530.59 535.27h13.42v13.42h-13.42zM1530.59 521.85h13.42v13.42h-13.42zM1530.59 508.43h13.42v13.42h-13.42zM1530.59 495.01h13.42v13.42h-13.42zM1530.59 481.59h13.42v13.42h-13.42zM1544.01 1219.69h13.42v13.42h-13.42zM1544.01 1206.27h13.42v13.42h-13.42zM1544.01 1192.85h13.42v13.42h-13.42zM1544.01 1179.43h13.42v13.42h-13.42zM1544.01 1166.01h13.42v13.42h-13.42zM1544.01 535.27h13.42v13.42h-13.42zM1544.01 521.85h13.42v13.42h-13.42zM1544.01 508.43h13.42v13.42h-13.42zM1544.01 495.01h13.42v13.42h-13.42zM1557.43 1233.11h13.42v13.42h-13.42zM1557.43 1219.69h13.42v13.42h-13.42zM1557.43 1206.27h13.42v13.42h-13.42zM1557.43 1192.85h13.42v13.42h-13.42zM1557.43 1179.43h13.42v13.42h-13.42zM1557.43 562.11h13.42v13.42h-13.42zM1557.43 548.69h13.42v13.42h-13.42zM1557.43 535.27h13.42v13.42h-13.42zM1557.43 521.85h13.42v13.42h-13.42zM1557.43 508.43h13.42v13.42h-13.42zM1570.85 1246.53h13.42v13.42h-13.42zM1570.85 1233.11h13.42v13.42h-13.42zM1570.85 1219.69h13.42v13.42h-13.42zM1570.85 1206.27h13.42v13.42h-13.42zM1570.85 1192.85h13.42v13.42h-13.42zM1570.85 562.11h13.42v13.42h-13.42zM1570.85 548.69h13.42v13.42h-13.42zM1570.85 535.27h13.42v13.42h-13.42zM1570.85 521.85h13.42v13.42h-13.42zM1584.27 1246.53h13.42v13.42h-13.42zM1584.27 1219.69h13.42v13.42h-13.42zM1584.27 1206.27h13.42v13.42h-13.42zM1584.27 548.69h13.42v13.42h-13.42zM1584.27 535.27h13.42v13.42h-13.42zM1597.69 1246.53h13.42v13.42h-13.42zM1597.69 1233.11h13.42v13.42h-13.42zM1597.69 1219.69h13.42v13.42h-13.42zM1597.69 548.69h13.42v13.42h-13.42zM1611.10 1273.37h13.42v13.42h-13.42zM1624.52 1273.37h13.42v13.42h-13.42zM1637.94 1273.37h13.42v13.42h-13.42zM1718.46 978.13h13.42v13.42h-13.42zM1718.46 964.71h13.42v13.42h-13.42zM1718.46 951.29h13.42v13.42h-13.42zM1718.46 937.87h13.42v13.42h-13.42zM1731.88 991.55h13.42v13.42h-13.42zM1731.88 978.13h13.42v13.42h-13.42zM1731.88 964.71h13.42v13.42h-13.42zM1731.88 951.29h13.42v13.42h-13.42zM1731.88 937.87h13.42v13.42h-13.42zM1745.29 1407.57h13.42v13.42h-13.42zM1745.29 991.55h13.42v13.42h-13.42zM1745.29 978.13h13.42v13.42h-13.42zM1745.29 964.71h13.42v13.42h-13.42zM1758.71 1018.39h13.42v13.42h-13.42zM1758.71 1004.97h13.42v13.42h-13.42zM1758.71 991.55h13.42v13.42h-13.42zM1758.71 978.13h13.42v13.42h-13.42zM1758.71 964.71h13.42v13.42h-13.42zM1772.13 1031.81h13.42v13.42h-13.42zM1772.13 1018.39h13.42v13.42h-13.42zM1772.13 1004.97h13.42v13.42h-13.42zM1772.13 991.55h13.42v13.42h-13.42zM1785.55 1031.81h13.42v13.42h-13.42zM1785.55 1018.39h13.42v13.42h-13.42zM1785.55 1004.97h13.42v13.42h-13.42zM1785.55 991.55h13.42v13.42h-13.42zM1798.97 1031.81h13.42v13.42h-13.42zM1798.97 1018.39h13.42v13.42h-13.42zM1812.39 1031.81h13.42v13.42h-13.42zM1812.39 1018.39h13.42v13.42h-13.42z"/><path fill="#34acda" d="M631.52 1246.53h13.42v13.42h-13.42zM644.94 1233.11h13.42v13.42h-13.42zM658.36 266.87h13.42v13.42h-13.42zM658.36 253.45h13.42v13.42h-13.42zM671.77 293.71h13.42v13.42h-13.42zM685.19 347.39h13.42v13.42h-13.42zM685.19 333.97h13.42v13.42h-13.42zM685.19 320.55h13.42v13.42h-13.42zM685.19 307.13h13.42v13.42h-13.42zM698.61 1313.63h13.42v13.42h-13.42zM712.03 1300.21h13.42v13.42h-13.42zM765.71 441.33h13.42v13.42h-13.42zM779.13 441.33h13.42v13.42h-13.42zM792.55 441.33h13.42v13.42h-13.42zM873.06 776.83h13.42v13.42h-13.42zM886.48 776.83h13.42v13.42h-13.42zM899.90 790.25h13.42v13.42h-13.42zM913.32 763.41h13.42v13.42h-13.42zM926.74 763.41h13.42v13.42h-13.42zM940.15 146.09h13.42v13.42h-13.42zM953.57 857.35h13.42v13.42h-13.42zM966.99 870.77h13.42v13.42h-13.42zM966.99 857.35h13.42v13.42h-13.42zM966.99 172.93h13.42v13.42h-13.42zM980.41 870.77h13.42v13.42h-13.42zM980.41 843.93h13.42v13.42h-13.42zM980.41 830.51h13.42v13.42h-13.42zM993.83 897.61h13.42v13.42h-13.42zM993.83 870.77h13.42v13.42h-13.42zM993.83 857.35h13.42v13.42h-13.42zM993.83 843.93h13.42v13.42h-13.42zM993.83 199.77h13.42v13.42h-13.42zM1007.25 870.77h13.42v13.42h-13.42zM1007.25 857.35h13.42v13.42h-13.42zM1020.67 884.19h13.42v13.42h-13.42zM1047.51 951.29h13.42v13.42h-13.42zM1060.93 924.45h13.42v13.42h-13.42zM1074.34 978.13h13.42v13.42h-13.42zM1074.34 964.71h13.42v13.42h-13.42zM1074.34 951.29h13.42v13.42h-13.42zM1074.34 937.87h13.42v13.42h-13.42zM1087.76 991.55h13.42v13.42h-13.42zM1087.76 978.13h13.42v13.42h-13.42zM1087.76 951.29h13.42v13.42h-13.42zM1087.76 937.87h13.42v13.42h-13.42zM1101.18 964.71h13.42v13.42h-13.42zM1101.18 951.29h13.42v13.42h-13.42zM1114.60 964.71h13.42v13.42h-13.42zM1114.60 696.31h13.42v13.42h-13.42zM1114.60 682.89h13.42v13.42h-13.42zM1114.60 669.47h13.42v13.42h-13.42zM1114.60 656.05h13.42v13.42h-13.42zM1128.02 669.47h13.42v13.42h-13.42zM1128.02 387.65h13.42v13.42h-13.42zM1154.86 1045.23h13.42v13.42h-13.42zM1154.86 736.57h13.42v13.42h-13.42zM1168.28 1072.07h13.42v13.42h-13.42zM1168.28 1058.65h13.42v13.42h-13.42zM1168.28 749.99h13.42v13.42h-13.42zM1168.28 709.73h13.42v13.42h-13.42zM1181.70 1031.81h13.42v13.42h-13.42zM1181.70 1018.39h13.42v13.42h-13.42zM1181.70 723.15h13.42v13.42h-13.42zM1195.12 776.83h13.42v13.42h-13.42zM1208.53 790.25h13.42v13.42h-13.42zM1221.95 763.41h13.42v13.42h-13.42zM1235.37 776.83h13.42v13.42h-13.42zM1248.79 830.51h13.42v13.42h-13.42zM1262.21 830.51h13.42v13.42h-13.42zM1275.63 830.51h13.42v13.42h-13.42zM1275.63 817.09h13.42v13.42h-13.42zM1289.05 830.51h13.42v13.42h-13.42zM1329.31 575.53h13.42v13.42h-13.42zM1369.56 615.79h13.42v13.42h-13.42zM1369.56 360.81h13.42v13.42h-13.42zM1369.56 347.39h13.42v13.42h-13.42zM1382.98 360.81h13.42v13.42h-13.42zM1382.98 347.39h13.42v13.42h-13.42zM1450.08 441.33h13.42v13.42h-13.42zM1503.75 1179.43h13.42v13.42h-13.42zM1503.75 1166.01h13.42v13.42h-13.42zM1503.75 1152.59h13.42v13.42h-13.42zM1503.75 495.01h13.42v13.42h-13.42zM1530.59 186.35h13.42v13.42h-13.42zM1557.43 817.09h13.42v13.42h-13.42zM1557.43 213.19h13.42v13.42h-13.42zM1557.43 186.35h13.42v13.42h-13.42zM1584.27 575.53h13.42v13.42h-13.42zM1584.27 562.11h13.42v13.42h-13.42zM1584.27 266.87h13.42v13.42h-13.42zM1597.69 1259.95h13.42v13.42h-13.42zM1597.69 575.53h13.42v13.42h-13.42zM1597.69 562.11h13.42v13.42h-13.42zM1611.10 1259.95h13.42v13.42h-13.42zM1624.52 1259.95h13.42v13.42h-13.42zM1637.94 1259.95h13.42v13.42h-13.42zM1651.36 1273.37h13.42v13.42h-13.42zM1678.20 1286.79h13.42v13.42h-13.42zM1678.20 360.81h13.42v13.42h-13.42zM1691.62 1286.79h13.42v13.42h-13.42zM1731.88 387.65h13.42v13.42h-13.42zM1745.29 951.29h13.42v13.42h-13.42zM1758.71 414.49h13.42v13.42h-13.42zM1758.71 387.65h13.42v13.42h-13.42zM1772.13 978.13h13.42v13.42h-13.42zM1798.97 1004.97h13.42v13.42h-13.42z"/><path fill="#00fcfc" d="M644.94 320.55h13.42v13.42h-13.42zM712.03 320.55h13.42v13.42h-13.42zM846.22 1072.07h13.42v13.42h-13.42zM859.64 1058.65h13.42v13.42h-13.42zM873.06 1098.91h13.42v13.42h-13.42zM873.06 763.41h13.42v13.42h-13.42zM886.48 1085.49h13.42v13.42h-13.42zM980.41 266.87h13.42v13.42h-13.42zM1007.25 253.45h13.42v13.42h-13.42zM1034.09 870.77h13.42v13.42h-13.42zM1074.34 911.03h13.42v13.42h-13.42zM1114.60 642.63h13.42v13.42h-13.42zM1181.70 1072.07h13.42v13.42h-13.42zM1195.12 709.73h13.42v13.42h-13.42zM1235.37 749.99h13.42v13.42h-13.42zM1275.63 642.63h13.42v13.42h-13.42zM1302.47 830.51h13.42v13.42h-13.42zM1302.47 669.47h13.42v13.42h-13.42zM1315.89 562.11h13.42v13.42h-13.42zM1329.31 562.11h13.42v13.42h-13.42zM1356.14 548.69h13.42v13.42h-13.42zM1356.14 347.39h13.42v13.42h-13.42zM1369.56 333.97h13.42v13.42h-13.42zM1369.56 320.55h13.42v13.42h-13.42zM1382.98 629.21h13.42v13.42h-13.42zM1382.98 615.79h13.42v13.42h-13.42zM1396.40 588.95h13.42v13.42h-13.42zM1450.08 468.17h13.42v13.42h-13.42zM1476.91 495.01h13.42v13.42h-13.42zM1570.85 320.55h13.42v13.42h-13.42zM1584.27 320.55h13.42v13.42h-13.42zM1584.27 307.13h13.42v13.42h-13.42zM1597.69 588.95h13.42v13.42h-13.42zM1597.69 320.55h13.42v13.42h-13.42zM1611.10 575.53h13.42v13.42h-13.42zM1611.10 266.87h13.42v13.42h-13.42zM1624.52 1300.21h13.42v13.42h-13.42zM1624.52 1233.11h13.42v13.42h-13.42zM1624.52 575.53h13.42v13.42h-13.42zM1624.52 374.23h13.42v13.42h-13.42zM1624.52 360.81h13.42v13.42h-13.42zM1624.52 347.39h13.42v13.42h-13.42zM1637.94 360.81h13.42v13.42h-13.42zM1678.20 964.71h13.42v13.42h-13.42zM1678.20 333.97h13.42v13.42h-13.42zM1691.62 937.87h13.42v13.42h-13.42zM1691.62 226.61h13.42v13.42h-13.42zM1691.62 213.19h13.42v13.42h-13.42zM1718.46 253.45h13.42v13.42h-13.42zM1731.88 253.45h13.42v13.42h-13.42z"/><path fill="#ff5e00" d="M685.19 1233.11h13.42v13.42h-13.42zM712.03 1259.95h13.42v13.42h-13.42zM712.03 562.11h13.42v13.42h-13.42zM725.45 548.69h13.42v13.42h-13.42zM738.87 199.77h13.42v13.42h-13.42zM752.29 521.85h13.42v13.42h-13.42zM765.71 508.43h13.42v13.42h-13.42zM765.71 186.35h13.42v13.42h-13.42zM779.13 495.01h13.42v13.42h-13.42zM792.55 159.51h13.42v13.42h-13.42zM913.32 736.57h13.42v13.42h-13.42zM913.32 709.73h13.42v13.42h-13.42zM926.74 414.49h13.42v13.42h-13.42zM953.57 414.49h13.42v13.42h-13.42zM953.57 387.65h13.42v13.42h-13.42zM1208.53 1031.81h13.42v13.42h-13.42zM1235.37 1031.81h13.42v13.42h-13.42zM1315.89 602.37h13.42v13.42h-13.42zM1342.72 629.21h13.42v13.42h-13.42zM1382.98 1233.11h13.42v13.42h-13.42zM1396.40 1219.69h13.42v13.42h-13.42zM1423.24 1192.85h13.42v13.42h-13.42zM1436.66 1179.43h13.42v13.42h-13.42zM1450.08 1166.01h13.42v13.42h-13.42zM1530.59 1018.39h13.42v13.42h-13.42zM1530.59 991.55h13.42v13.42h-13.42zM1557.43 991.55h13.42v13.42h-13.42zM1745.29 1206.27h13.42v13.42h-13.42zM1758.71 1179.43h13.42v13.42h-13.42zM1785.55 1152.59h13.42v13.42h-13.42z"/><path fill="#5483c0" d="M712.03 360.81h13.42v13.42h-13.42zM940.15 790.25h13.42v13.42h-13.42zM940.15 199.77h13.42v13.42h-13.42zM1154.86 1004.97h13.42v13.42h-13.42zM1396.40 401.07h13.42v13.42h-13.42zM1544.01 548.69h13.42v13.42h-13.42zM1584.27 1233.11h13.42v13.42h-13.42zM1745.29 1004.97h13.42v13.42h-13.42z"/><path fill="#ff8a00" d="M873.06 1045.23h13.42v13.42h-13.42zM886.48 1031.81h13.42v13.42h-13.42zM899.90 1072.07h13.42v13.42h-13.42zM913.32 1058.65h13.42v13.42h-13.42z"/></g>
<rect x="1862.00" y="1654.17" width="12.25" height="102.63" fill="#ff0000"/><rect x="1862.00" y="1551.84" width="12.25" height="102.63" fill="#ff2000"/><rect x="1862.00" y="1449.52" width="12.25" height="102.63" fill="#ff3a00"/><rect x="1862.00" y="1347.19" width="12.25" height="102.63" fill="#ff5a00"/><rect x="1862.00" y="1244.86" width="12.25" height="102.63" fill="#ff7000"/><rect x="1862.00" y="1142.53" width="12.25" height="102.63" fill="#ff8800"/><rect x="1862.00" y="1040.20" width="12.25" height="102.63" fill="#ffa000"/><rect x="1862.00" y="937.88" width="12.25" height="102.63" fill="#00ffff"/><rect x="1862.00" y="835.55" width="12.25" height="102.63" fill="#14e6f6"/><rect x="1862.00" y="733.22" width="12.25" height="102.63" fill="#22d2ee"/><rect x="1862.00" y="630.89" width="12.25" height="102.63" fill="#2cc0e6"/><rect x="1862.00" y="528.56" width="12.25" height="102.63" fill="#34aede"/><rect x="1862.00" y="426.23" width="12.25" height="102.63" fill="#3ca0d4"/><rect x="1862.00" y="323.91" width="12.25" height="102.63" fill="#4890ca"/><rect x="1862.00" y="221.58" width="12.25" height="102.63" fill="#5282c0"/><rect x="1862.00" y="119.25" width="12.25" height="102.63" fill="#ffffff"/>
<path d="M463.78 1756.50V1762.20M463.78 119.25V113.55M202.10 1494.80H196.40M1839.20 1494.80H1844.90M732.16 1756.50V1762.20M732.16 119.25V113.55M202.10 1226.40H196.40M1839.20 1226.40H1844.90M1000.54 1756.50V1762.20M1000.54 119.25V113.55M202.10 958.00H196.40M1839.20 958.00H1844.90M1268.92 1756.50V1762.20M1268.92 119.25V113.55M202.10 689.60H196.40M1839.20 689.60H1844.90M1537.30 1756.50V1762.20M1537.30 119.25V113.55M202.10 421.20H196.40M1839.20 421.20H1844.90M1805.68 1756.50V1762.20M1805.68 119.25V113.55M202.10 152.80H196.40M1839.20 152.80H1844.90" stroke="#000" stroke-width="5.6" stroke-linecap="round" fill="none"/>
<rect x="202.10" y="119.25" width="1637.10" height="1637.25" fill="none" stroke="#000" stroke-width="5.6" stroke-linejoin="round"/>
<rect x="1862.00" y="119.25" width="12.25" height="1637.25" fill="none" stroke="#000" stroke-width="5.6" stroke-linejoin="round"/>
<path d="M1874.25 1696.90H1878.60M1874.25 1286.45H1878.60M1874.25 876.00H1878.60M1874.25 465.55H1878.60" stroke="#000" stroke-width="5.6" stroke-linecap="round" fill="none"/>
<text transform="translate(463.78 1812.2) scale(1 1.05)" text-anchor="middle" font-size="60">20</text><text transform="translate(191.3 1517.00) scale(1 1.05)" text-anchor="end" font-size="60">20</text><text transform="translate(732.16 1812.2) scale(1 1.05)" text-anchor="middle" font-size="60">40</text><text transform="translate(191.3 1248.60) scale(1 1.05)" text-anchor="end" font-size="60">40</text><text transform="translate(1000.54 1812.2) scale(1 1.05)" text-anchor="middle" font-size="60">60</text><text transform="translate(191.3 980.20) scale(1 1.05)" text-anchor="end" font-size="60">60</text><text transform="translate(1268.92 1812.2) scale(1 1.05)" text-anchor="middle" font-size="60">80</text><text transform="translate(191.3 711.80) scale(1 1.05)" text-anchor="end" font-size="60">80</text><text transform="translate(1537.30 1812.2) scale(1 1.05)" text-anchor="middle" font-size="60">100</text><text transform="translate(191.3 443.40) scale(1 1.05)" text-anchor="end" font-size="60">100</text><text transform="translate(1805.68 1812.2) scale(1 1.05)" text-anchor="middle" font-size="60">120</text><text transform="translate(191.3 175.00) scale(1 1.05)" text-anchor="end" font-size="60">120</text><text transform="translate(1882.8 1715.00) scale(1 1.05)" font-size="48.5">0</text><text transform="translate(1882.8 1304.55) scale(1 1.05)" font-size="48.5">50</text><text transform="translate(1882.8 894.10) scale(1 1.05)" font-size="48.5">100</text><text transform="translate(1882.8 483.65) scale(1 1.05)" font-size="48.5">150</text><text transform="translate(818.1 1868) scale(1 1.05)" font-size="60">Residue index</text><text transform="translate(80.2 1141.3) rotate(-90) scale(1 1.05)" font-size="60">Residue index</text>
</svg></body></html>
